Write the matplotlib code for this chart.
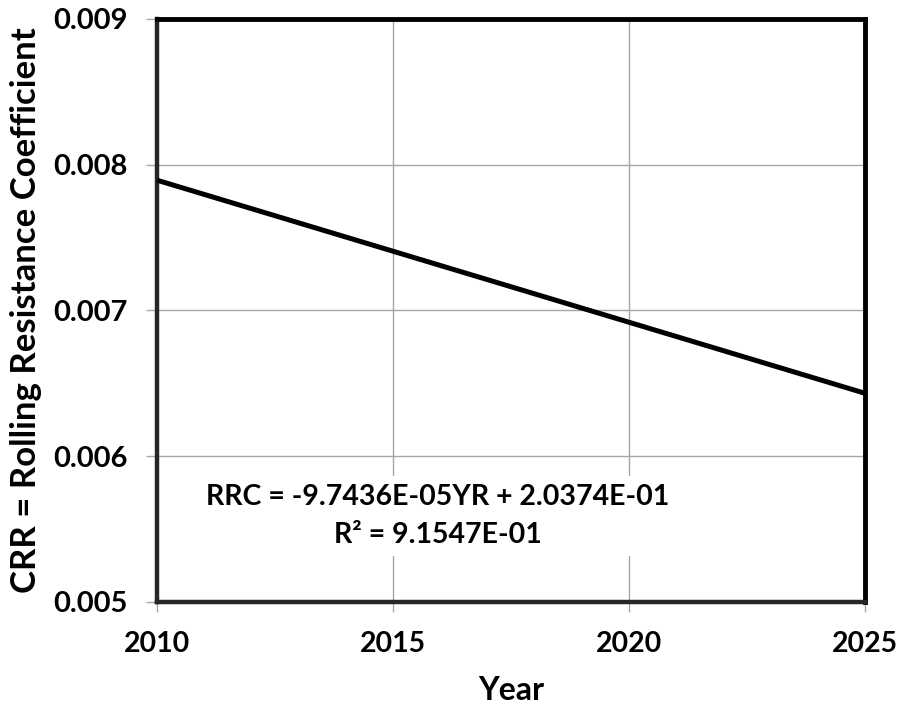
import matplotlib
matplotlib.use("Agg")
import matplotlib.pyplot as plt

# Trend line of rolling resistance coefficient vs. year
years = [2010, 2025]
crr = [0.007894, 0.006432]

x_ticks = [2010, 2015, 2020, 2025]
y_ticks = [0.005, 0.006, 0.007, 0.008, 0.009]
y_tick_labels = ["0.005", "0.006", "0.007", "0.008", "0.009"]

eq_text = "RRC = -9.7436E-05YR + 2.0374E-01\nR\u00b2 = 9.1547E-01"

plt.rcParams["font.family"] = ["Lato", "DejaVu Sans"]
plt.rcParams["font.weight"] = "bold"

fig = plt.figure(figsize=(8.99, 7.09), dpi=100)
ax = fig.add_axes([157 / 899, 1 - 602 / 709, (865 - 157) / 899, (602 - 19) / 709])

ax.plot(years, crr, color="black", linewidth=3.6, solid_capstyle="butt", zorder=3)

ax.set_xlim(2010, 2025)
ax.set_ylim(0.005, 0.009)
ax.set_xticks(x_ticks)
ax.set_xticklabels([str(t) for t in x_ticks], fontsize=20.5, fontweight="bold")
ax.set_yticks(y_ticks)
ax.set_yticklabels(y_tick_labels, fontsize=21, fontweight="bold")

ax.grid(True, color="#a6a6a6", linewidth=1.0, zorder=0)
ax.set_axisbelow(True)

ax.tick_params(axis="x", direction="out", length=7, width=1, color="#a6a6a6", pad=14)
ax.tick_params(axis="y", direction="out", length=8, width=1, color="#a6a6a6", pad=13)

for side in ["top", "right"]:
    ax.spines[side].set_linewidth(3.5)
    ax.spines[side].set_color("black")
for side in ["left", "bottom"]:
    ax.spines[side].set_linewidth(3.2)
    ax.spines[side].set_color("#262626")

ax.set_xlabel("Year", fontsize=23, fontweight="bold")
ax.xaxis.set_label_coords(0.5, -(690 - 602) / 583, transform=ax.transAxes)
ax.xaxis.label.set_va("center")
ax.set_ylabel("CRR = Rolling Resistance Coefficient", fontsize=25, fontweight="bold")
ax.yaxis.set_label_coords(-(157 - 26) / 708, 0.5, transform=ax.transAxes)
ax.yaxis.label.set_va("center")

ax.text(2015.95, 0.00559, eq_text, ha="center", va="center", fontsize=20.5,
        fontweight="bold", linespacing=1.55, zorder=4,
        bbox=dict(facecolor="white", edgecolor="none", pad=6))

fig.savefig("out.png", dpi=100)
